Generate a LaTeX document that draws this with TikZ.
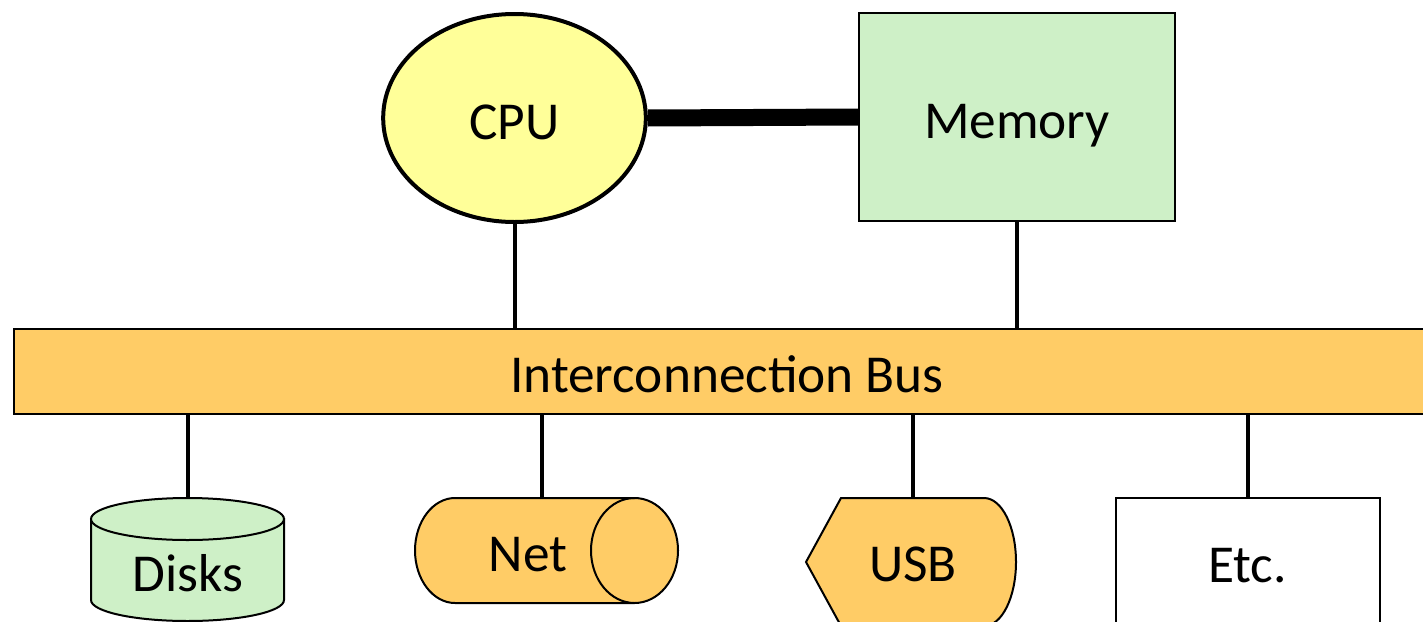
\documentclass[tikz,border=0pt]{standalone}
\usepackage{fontspec}
\setmainfont{Carlito}
\usetikzlibrary{shapes.geometric}

\definecolor{cpuyellow}{RGB}{255,255,153}
\definecolor{memgreen}{RGB}{206,240,199}
\definecolor{busorange}{RGB}{255,204,102}

\tikzset{every picture/.style={line width=0.75pt}}
\tikzset{
	part/.style={draw, inner sep=0pt, line width=1.5pt, text height=32pt, text depth=0pt},
	label/.style={inner sep=0pt, text height=32pt, text depth=0pt},
	wire/.style={line width=3pt}
}

\begin{document}
\begin{tikzpicture}[x=0.75pt,y=0.75pt,yscale=-1,xscale=1,font=\fontsize{40}{48}\selectfont]
		\useasboundingbox (0,0) rectangle (1423,621);
		
		%Shape: Ellipse
		\node [part, ellipse, line width=3pt, fill=cpuyellow, minimum width=197pt, minimum height=156pt] (cpu) at (514.5,118) {CPU};
		%Shape: Rectangle
		\node [part, rectangle, fill=memgreen, minimum width=237pt, minimum height=156pt] (mem) at (1017,117) {Memory};
		%Shape: Rectangle
		\node [part, rectangle, fill=busorange, minimum width=1070pt, minimum height=63.75pt] (bus) at (727,371) {Interconnection Bus};
		
		%Shape: Can
		\draw [line width=1.5pt, fill=memgreen] (91,519) -- (91,600) .. controls (91,611.6) and (134.2,621) .. (187.5,621) .. controls (240.8,621) and (284,611.6) .. (284,600) -- (284,519) -- cycle ;
		\draw [line width=1.5pt, fill=memgreen] (187.5,519) ellipse [x radius=96.5, y radius=21] ;
		\node [label, minimum width=145pt, minimum height=109pt] (disks) at (188,570.5) {Disks};
		%Shape: Can
		\draw [line width=1.5pt, fill=busorange] (455,498) -- (634.5,498) .. controls (658.5,498) and (678,521.5) .. (678,550.5) .. controls (678,579.5) and (658.5,603) .. (634.5,603) -- (455,603) .. controls (433,603) and (415,579.5) .. (415,550.5) .. controls (415,521.5) and (433,498) .. (455,498) -- cycle ;
		\draw [line width=1.5pt] (634.5,498) .. controls (610.5,498) and (591,521.5) .. (591,550.5) .. controls (591,579.5) and (610.5,603) .. (634.5,603) ;
		\node [label, minimum width=40pt, minimum height=78pt] (net) at (542,550) {\hspace*{-21pt}Net};
		%Shape: Display
		\draw [line width=1.5pt, fill=busorange] (806,562) -- (841,498) -- (984,498) .. controls (1002,498) and (1016,527) .. (1016,562) .. controls (1016,597) and (1002,626) .. (984,626) -- (841,626) -- cycle ;
		\node [label, minimum width=157pt, minimum height=94pt] (usb) at (913,560.5) {USB};
		%Shape: Rectangle
		\node [part, rectangle, fill=white, minimum width=198pt, minimum height=94.5pt] (etc) at (1247.5,561) {Etc.};
		
		%Straight Lines
		\draw [line width=12.75pt] (cpu.east) -- (mem.west);
		\draw [wire] (cpu.south) -- (cpu.south |- bus.north);
		\draw [wire] (mem.south) -- (mem.south |- bus.north);
		\draw [wire] (bus.south -| disks.north) -- (disks.north);
		\draw [wire] (bus.south -| net.north) -- (net.north);
		\draw [wire] (bus.south -| usb.north) -- (usb.north);
		\draw [wire] (bus.south -| etc.north) -- (etc.north);
		
	\end{tikzpicture}
\end{document}
